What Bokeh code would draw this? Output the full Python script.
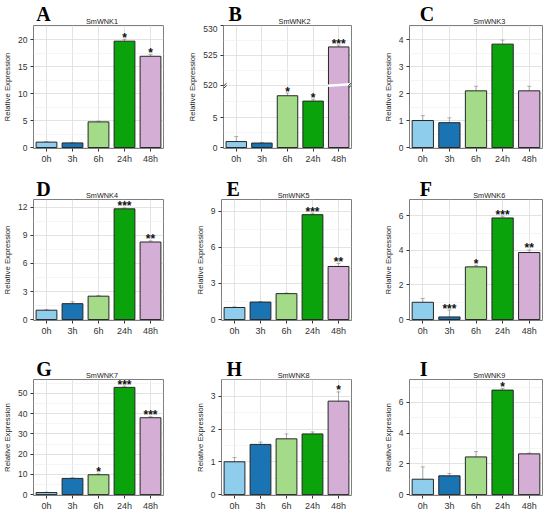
from bokeh.plotting import figure
from bokeh.models import Range1d, FactorRange, FixedTicker, Whisker, ColumnDataSource, TeeHead
from bokeh.layouts import column, row
from bokeh.embed import file_html
from bokeh.resources import INLINE
from bokeh.core.properties import value

times = ["0h", "3h", "6h", "24h", "48h"]
colors = ["#8ECDEB", "#1A74B4", "#A4DB88", "#0BA30B", "#D5AED6"]

letters = ["A", "B", "C", "D", "E", "F", "G", "H", "I"]
genes = ["SmWNK1", "SmWNK2", "SmWNK3", "SmWNK4", "SmWNK5",
         "SmWNK6", "SmWNK7", "SmWNK8", "SmWNK9"]

wnk1 = [1.0, 0.85, 4.75, 19.7, 16.9]
wnk1_err = [0.1, 0.05, 0.12, 0.35, 0.3]
wnk1_sig = ["", "", "", "*", "*"]

wnk2 = [1.0, 0.75, 8.7, 7.8, 526.4]
wnk2_err = [0.85, 0.1, 0.45, 0.3, 0.3]
wnk2_sig = ["", "", "*", "*", "***"]

wnk3 = [1.0, 0.92, 2.1, 3.83, 2.1]
wnk3_err = [0.18, 0.18, 0.17, 0.15, 0.17]
wnk3_sig = ["", "", "", "", ""]

wnk4 = [1.0, 1.7, 2.5, 11.85, 8.3]
wnk4_err = [0.05, 0.2, 0.08, 0.1, 0.12]
wnk4_sig = ["", "", "", "***", "**"]

wnk5 = [1.0, 1.45, 2.15, 8.7, 4.4]
wnk5_err = [0.05, 0.05, 0.05, 0.12, 0.25]
wnk5_sig = ["", "", "", "***", "**"]

wnk6 = [1.0, 0.15, 3.05, 5.88, 3.88]
wnk6_err = [0.22, 0.4, 0.08, 0.1, 0.15]
wnk6_sig = ["", "***", "*", "***", "**"]

wnk7 = [1.0, 8.0, 9.8, 53.0, 38.0]
wnk7_err = [0.2, 0.3, 0.4, 0.6, 0.5]
wnk7_sig = ["", "", "*", "***", "***"]

wnk8 = [1.0, 1.53, 1.7, 1.85, 2.85]
wnk8_err = [0.13, 0.07, 0.15, 0.06, 0.28]
wnk8_sig = ["", "", "", "", "*"]

wnk9 = [1.0, 1.22, 2.45, 6.8, 2.65]
wnk9_err = [0.8, 0.15, 0.35, 0.1, 0.05]
wnk9_sig = ["", "", "", "*", ""]

y_ticks = [
    [0, 5, 10, 15, 20],
    [0, 5, 520, 525, 530],
    [0, 1, 2, 3, 4],
    [0, 3, 6, 9, 12],
    [0, 3, 6, 9],
    [0, 2, 4, 6],
    [0, 10, 20, 30, 40, 50],
    [0, 1, 2, 3],
    [0, 2, 4, 6],
]
y_tops = [22.6, 530, 4.52, 12.85, 9.96, 6.95, 56.9, 3.51, 7.49]

# broken axis for SmWNK2: lower segment 0..10.5, upper segment starts at 520
BREAK_LOW = 10.5
BREAK_HIGH = 520.0


def brk(v):
    return v if v < BREAK_LOW else v - (BREAK_HIGH - BREAK_LOW)


series = [(wnk1, wnk1_err, wnk1_sig), (wnk2, wnk2_err, wnk2_sig), (wnk3, wnk3_err, wnk3_sig),
          (wnk4, wnk4_err, wnk4_sig), (wnk5, wnk5_err, wnk5_sig), (wnk6, wnk6_err, wnk6_sig),
          (wnk7, wnk7_err, wnk7_sig), (wnk8, wnk8_err, wnk8_sig), (wnk9, wnk9_err, wnk9_sig)]

FONT = "Liberation Sans"
# column geometry: total width, left border, right border, letter x
COL_W = [185, 182, 181]
COL_L = [32, 36, 42]
COL_R = [22, 16, 6]
COL_LETTER_X = [4, 7, 14]
# row geometry: header height, panel height, bottom border, letter y
HEAD_H = 25
ROW_PANEL_H = [149, 155, 134]
ROW_BOTTOM = [26, 34, 14]
ROW_LETTER_Y = [11.5, 11, 10.5]


def make_header(i):
    c, r = i % 3, i // 3
    W = COL_W[c]
    fl = COL_L[c]
    fw = W - COL_L[c] - COL_R[c]
    h = figure(width=W, height=HEAD_H, x_range=Range1d(0, W), y_range=Range1d(0, HEAD_H),
               x_axis_type=None, y_axis_type=None, output_backend="svg",
               toolbar_location=None, min_border=0, title_location=None)
    h.outline_line_color = None
    h.grid.visible = False
    h.background_fill_color = "white"
    h.border_fill_color = "white"
    h.text(x=[COL_LETTER_X[c]], y=[ROW_LETTER_Y[r]], text=[letters[i]],
           text_font=value("Liberation Serif"),
           text_font_style="bold", text_font_size="20px", text_color="black",
           text_align="left", text_baseline="alphabetic")
    h.text(x=[fl + fw / 2], y=[3.6], text=[genes[i]], text_font=value(FONT),
           text_font_size="7.3px", text_color="#222222",
           text_align="center", text_baseline="alphabetic")
    return h


def make_panel(i):
    c, r = i % 3, i // 3
    vals, errs, sig = series[i]
    ticks = y_ticks[i]
    top = y_tops[i]
    broken = (i == 1)
    if broken:
        tv = [brk(v) for v in vals]
        tt = [brk(t) for t in ticks]
        ttop = brk(top)
    else:
        tv = list(vals)
        tt = list(ticks)
        ttop = top
    minor = [(tt[k] + tt[k + 1]) / 2 for k in range(len(tt) - 1)]
    if not broken and len(tt) > 1:
        step = tt[1] - tt[0]
        if tt[-1] + step / 2 < ttop:
            minor.append(tt[-1] + step / 2)

    p = figure(x_range=FactorRange(factors=times), y_range=Range1d(-ttop * 0.008, ttop),
               width=COL_W[c], height=ROW_PANEL_H[r], output_backend="svg",
               toolbar_location=None, title_location=None,
               min_border_left=COL_L[c], min_border_right=COL_R[c],
               min_border_top=0, min_border_bottom=ROW_BOTTOM[r])

    p.background_fill_color = "white"
    p.border_fill_color = "white"
    p.outline_line_color = "#7f7f7f"
    p.outline_line_width = 1

    p.xgrid.grid_line_color = "#dcdcdc"
    p.xgrid.grid_line_width = 0.8
    p.ygrid.grid_line_color = "#dcdcdc"
    p.ygrid.grid_line_width = 0.8
    p.ygrid.minor_grid_line_color = "#efefef"
    p.ygrid.minor_grid_line_width = 0.6

    p.yaxis.ticker = FixedTicker(ticks=tt, minor_ticks=minor)
    if broken:
        p.yaxis.major_label_overrides = {tt[k]: str(ticks[k]) for k in range(len(tt))}
    p.axis.axis_line_color = None
    p.axis.major_tick_line_color = "#333333"
    p.axis.major_tick_out = 3
    p.axis.major_tick_in = 0
    p.axis.minor_tick_line_color = None
    p.axis.major_label_text_font = FONT
    p.axis.major_label_text_color = "#333333"
    p.axis.major_label_standoff = 2
    p.xaxis.major_label_text_font_size = "9px"
    p.yaxis.major_label_text_font_size = "8.5px"
    p.yaxis.axis_label = "Relative Expression"
    p.yaxis.axis_label_text_font = FONT
    p.yaxis.axis_label_text_font_size = "7.8px"
    p.yaxis.axis_label_text_font_style = "normal"
    p.yaxis.axis_label_text_color = "#222222"
    p.yaxis.axis_label_standoff = 3

    upper = [v + e for v, e in zip(tv, errs)]
    lower = [max(v - e, 0) for v, e in zip(tv, errs)]
    src = ColumnDataSource(dict(t=times, v=tv, color=colors, upper=upper, lower=lower,
                                sig=sig, sy=upper))
    p.vbar(x="t", top="v", width=0.8, source=src, fill_color="color",
           line_color="#262626", line_width=1)
    p.add_layout(Whisker(base="t", upper="upper", lower="lower", source=src,
                         line_color="#9a9a9a", line_width=0.8,
                         upper_head=TeeHead(size=4, line_color="#9a9a9a", line_width=0.8),
                         lower_head=TeeHead(size=4, line_color="#9a9a9a", line_width=0.8)))
    p.text(x="t", y="sy", text="sig", source=src, text_font=value(FONT),
           text_font_size="12px", text_font_style="bold", text_color="#111111",
           text_align="center", text_baseline="middle", y_offset=-1.5)

    if broken:
        idx = len(times) - 1
        p.segment(x0=[idx + 0.06], x1=[idx + 0.98], y0=[BREAK_LOW - 0.12], y1=[BREAK_LOW + 0.12],
                  line_color="white", line_width=2.5)
        for xs in (0.02, len(times) - 0.12):
            p.segment(x0=[xs, xs], x1=[xs + 0.1, xs + 0.1],
                      y0=[BREAK_LOW - 0.5, BREAK_LOW - 0.1], y1=[BREAK_LOW - 0.1, BREAK_LOW + 0.3],
                      line_color="#333333", line_width=1)
    return p


cells = [column(make_header(i), make_panel(i)) for i in range(9)]
layout = column(row(*cells[0:3]), row(*cells[3:6]), row(*cells[6:9]))
open("out.html", "w").write(file_html(layout, INLINE))
